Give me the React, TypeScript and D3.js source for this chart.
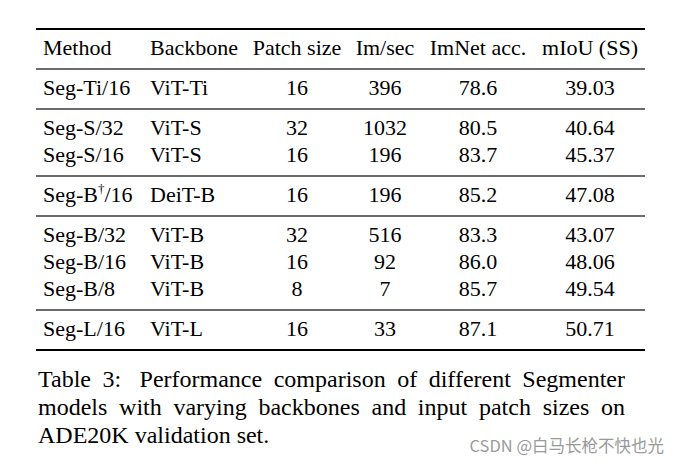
import React from "react";
import * as d3 from "d3";

const headers = ["Method", "Backbone", "Patch size", "Im/sec", "ImNet acc.", "mIoU (SS)"];
const methods = ["Seg-Ti/16", "Seg-S/32", "Seg-S/16", "Seg-B†/16", "Seg-B/32", "Seg-B/16", "Seg-B/8", "Seg-L/16"];
const backbones = ["ViT-Ti", "ViT-S", "ViT-S", "DeiT-B", "ViT-B", "ViT-B", "ViT-B", "ViT-L"];
const patchSizes = ["16", "32", "16", "16", "32", "16", "8", "16"];
const imPerSec = ["396", "1032", "196", "196", "516", "92", "7", "33"];
const imnetAcc = ["78.6", "80.5", "83.7", "85.2", "83.3", "86.0", "85.7", "87.1"];
const miou = ["39.03", "40.64", "45.37", "47.08", "43.07", "48.06", "49.54", "50.71"];
const groupSizes = [1, 2, 1, 3, 1];
const captionLines = [
  "Table 3: Performance comparison of different Segmenter",
  "models with varying backbones and input patch sizes on",
  "ADE20K validation set.",
];
const watermark = "CSDN @白马长枪不快也光";

const SERIF = "'Liberation Serif', 'Times New Roman', serif";

function measure(text: string, font: string): number {
  const c = (measure as any).c || ((measure as any).c = document.createElement("canvas"));
  const ctx = c.getContext("2d");
  ctx.font = font;
  return ctx.measureText(text).width;
}

export default function App() {
  const W = 681, H = 465;
  const ruleLeft = 36, ruleRight = 645;
  const topRule = 29;
  const firstGap = 26, rowStep = 27, afterGap = 14;
  const rules: { y: number; heavy: boolean }[] = [{ y: topRule, heavy: true }];
  const headerY = topRule + firstGap;
  let y = headerY + afterGap;
  rules.push({ y, heavy: false });
  const rowYs: number[] = [];
  groupSizes.forEach((g, gi) => {
    for (let i = 0; i < g; i++) rowYs.push(y + firstGap + i * rowStep);
    y = y + firstGap + (g - 1) * rowStep + afterGap;
    rules.push({ y, heavy: gi === groupSizes.length - 1 });
  });

  const colX = [43, 150, 297, 385, 478, 590];
  const colAnchor = ["start", "start", "middle", "middle", "middle", "middle"];
  const cols = [methods, backbones, patchSizes, imPerSec, imnetAcc, miou];
  const xIdx = d3.scaleOrdinal<number, number>().domain(d3.range(6)).range(colX);

  const fs = 22;
  const capFs = 24;
  const capFont = `${capFs}px 'Liberation Serif'`;
  const capLeft = 38, capRight = 625;
  const capBase = [387, 415, 443];

  const renderMethod = (m: string) => {
    if (m.includes("†")) {
      const [a, b] = m.split("†");
      return (
        <>
          {a}
          <tspan fontSize={13} dy={-9}>†</tspan>
          <tspan dy={9}>{b}</tspan>
        </>
      );
    }
    return m;
  };

  return (
    <svg width={W} height={H} style={{ position: "absolute", left: 0, top: 0, background: "#fff" }}>
      <rect width={W} height={H} fill="#fff" />
      {rules.map((r, i) => (
        <line key={i} x1={ruleLeft} x2={ruleRight} y1={r.y} y2={r.y}
          stroke={r.heavy ? "#000" : "#3a3a3a"} strokeWidth={r.heavy ? 2 : 1.3} />
      ))}
      {headers.map((h, i) => (
        <text key={h} x={xIdx(i)} y={headerY} fontFamily={SERIF} fontSize={fs}
          textAnchor={colAnchor[i] as any} fill="#000">{h}</text>
      ))}
      {cols.map((col, ci) =>
        col.map((v, ri) => (
          <text key={ci + "-" + ri} x={xIdx(ci)} y={rowYs[ri]} fontFamily={SERIF} fontSize={fs}
            textAnchor={colAnchor[ci] as any} fill="#000">
            {ci === 0 ? renderMethod(v) : v}
          </text>
        ))
      )}
      {captionLines.map((line, li) => {
        const words = line.split(" ");
        const justify = li < captionLines.length - 1;
        const widths = words.map((w) => measure(w, capFont));
        const weights = words.slice(0, -1).map((w) => (w.endsWith(":") ? 1.6 : 1));
        const totalW = d3.sum(widths);
        const sp = measure(" ", capFont);
        const gapUnit = justify ? (capRight - capLeft - totalW) / d3.sum(weights) : sp;
        let x = capLeft;
        return words.map((w, wi) => {
          const el = (
            <text key={li + "-" + wi} x={x} y={capBase[li]} fontFamily={SERIF} fontSize={capFs} fill="#000">{w}</text>
          );
          x += widths[wi] + (wi < weights.length ? gapUnit * (justify ? weights[wi] : 1) : 0);
          return el;
        });
      })}
      <text x={664} y={452} textAnchor="end" fontFamily="'Noto Sans CJK SC', 'Noto Sans', sans-serif"
        fontSize={16.5} fill="#9a9a9a">{watermark}</text>
    </svg>
  );
}
